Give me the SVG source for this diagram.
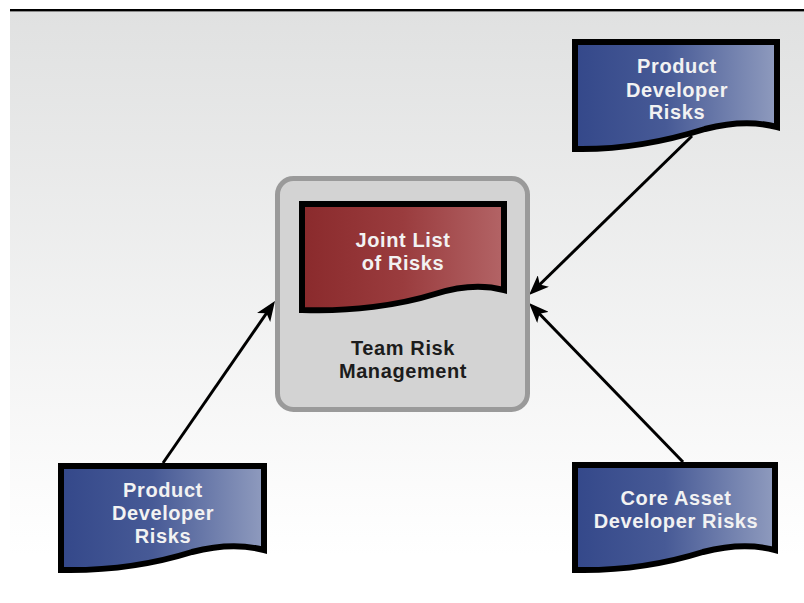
<svg xmlns="http://www.w3.org/2000/svg" width="804" height="603" viewBox="0 0 804 603">
<defs>
<linearGradient id="bg" x1="0" y1="0" x2="0" y2="1">
<stop offset="0" stop-color="#e0e1e1"/>
<stop offset="0.92" stop-color="#ffffff"/>
</linearGradient>
<linearGradient id="blue" x1="0" y1="0" x2="1" y2="0">
<stop offset="0" stop-color="#34488a"/>
<stop offset="0.45" stop-color="#475a96"/>
<stop offset="1" stop-color="#8f9bbe"/>
</linearGradient>
<linearGradient id="red" x1="0" y1="0" x2="1" y2="0">
<stop offset="0" stop-color="#8a2a2c"/>
<stop offset="0.5" stop-color="#9a3c3e"/>
<stop offset="1" stop-color="#b36466"/>
</linearGradient>
<marker id="arr" viewBox="0 0 20 16" refX="10" refY="8" markerUnits="userSpaceOnUse" markerWidth="20" markerHeight="16" orient="auto">
<path d="M0,0 L20,8 L0,16 L5,8 Z" fill="#000"/>
</marker>
<style>
.doc{stroke:#000;stroke-width:6;stroke-linejoin:miter}
.wt{font-family:"Liberation Sans",Arial,sans-serif;font-weight:bold;font-size:20px;letter-spacing:0.6px;fill:#f2f2f2;text-anchor:middle}
.dk{font-family:"Liberation Sans",Arial,sans-serif;font-weight:bold;font-size:20px;letter-spacing:0.6px;fill:#1c1c1c;text-anchor:middle}
.conn{stroke:#000;stroke-width:3;fill:none;marker-end:url(#arr)}
</style>
</defs>
<rect x="10" y="10" width="794" height="593" fill="url(#bg)"/>
<line x1="10" y1="10" x2="804" y2="10" stroke="#000" stroke-width="2"/>
<line x1="10" y1="11.5" x2="804" y2="11.5" stroke="#8a8a8a" stroke-width="1"/>

<g id="connectors">
<line class="conn" x1="163" y1="463" x2="269.3" y2="309.2"/>
<line class="conn" x1="692" y1="136" x2="536.2" y2="288"/>
<line class="conn" x1="683" y1="462" x2="536" y2="310.2"/>
</g>

<g id="team-risk-management">
<rect x="277.5" y="178.5" width="250" height="231" rx="16" fill="#d3d3d3" stroke="#9a9a9a" stroke-width="5"/>
<text class="dk" x="403" y="355">Team Risk</text>
<text class="dk" x="403" y="378">Management</text>
</g>

<g id="joint-list">
<path class="doc" fill="url(#red)" d="M302,204 H504 V290 C485,285 460,286 435,294 C400,305 350,312 302,310 Z"/>
<text class="wt" x="403" y="247">Joint List</text>
<text class="wt" x="403" y="270">of Risks</text>
</g>

<g id="product-dev-top">
<path class="doc" fill="url(#blue)" d="M575,42 H777 V127 C758,122 732,122 705,129 C670,140 625,150 575,149 Z"/>
<text class="wt" x="677" y="73">Product</text>
<text class="wt" x="677" y="97">Developer</text>
<text class="wt" x="677" y="119">Risks</text>
</g>

<g id="product-dev-bottom">
<path class="doc" fill="url(#blue)" d="M61,466 H264 V550 C245,545 219,545 192,552 C157,563 112,571 61,570 Z"/>
<text class="wt" x="163" y="497">Product</text>
<text class="wt" x="163" y="520">Developer</text>
<text class="wt" x="163" y="543">Risks</text>
</g>

<g id="core-asset">
<path class="doc" fill="url(#blue)" d="M575,465 H775 V550 C756,545 730,545 703,552 C668,563 625,571 575,570 Z"/>
<text class="wt" x="676" y="505">Core Asset</text>
<text class="wt" x="676" y="528">Developer Risks</text>
</g>
</svg>
